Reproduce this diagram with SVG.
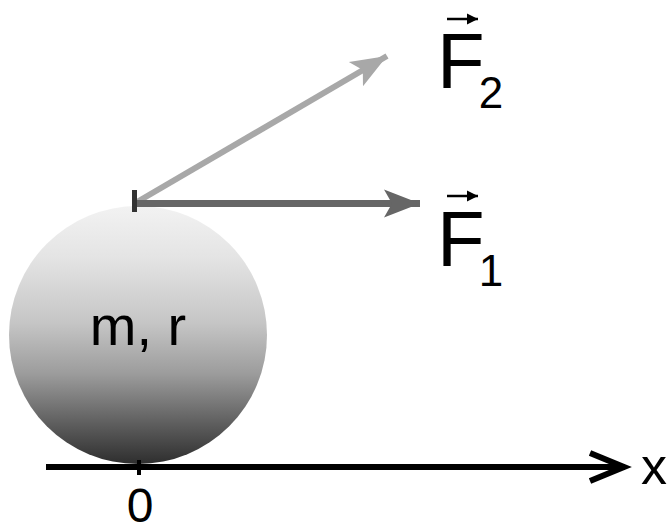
<svg xmlns="http://www.w3.org/2000/svg" width="667" height="527" viewBox="0 0 667 527">
  <defs>
    <linearGradient id="ballGrad" x1="0" y1="0" x2="0" y2="1">
      <stop offset="0" stop-color="#f2f2f2"/>
      <stop offset="0.2" stop-color="#e4e4e4"/>
      <stop offset="0.45" stop-color="#c6c6c6"/>
      <stop offset="0.65" stop-color="#9c9c9c"/>
      <stop offset="0.85" stop-color="#5c5c5c"/>
      <stop offset="1" stop-color="#2e2e2e"/>
    </linearGradient>
    <marker id="headF1" markerUnits="userSpaceOnUse" markerWidth="40" markerHeight="32" viewBox="-36 -16 40 32" refX="0" refY="0" orient="auto">
      <path d="M0,0 L-36,-14 L-28,0 L-36,14 Z" fill="#666666"/>
    </marker>
    <marker id="headF2" markerUnits="userSpaceOnUse" markerWidth="40" markerHeight="32" viewBox="-36 -16 40 32" refX="0" refY="0" orient="auto">
      <path d="M0,0 L-36,-14 L-28,0 L-36,14 Z" fill="#a8a8a8"/>
    </marker>
    <marker id="vecHead" markerUnits="userSpaceOnUse" markerWidth="14" markerHeight="14" viewBox="-12 -7 14 14" refX="0" refY="0" orient="auto">
      <path d="M0,0 L-11,-5.5 L-11,5.5 Z" fill="#000"/>
    </marker>
  </defs>
  <style>
    text { font-family: "Liberation Sans", Arial, sans-serif; fill: #000; }
    .big { font-size: 78px; }
    .sub { font-size: 44px; }
    .lbl { font-size: 52px; }
    .vec { stroke: #000; stroke-width: 2.5; fill: none; }
  </style>
  <rect width="667" height="527" fill="#ffffff"/>

  <g id="ball">
    <circle cx="138" cy="335" r="129" fill="url(#ballGrad)"/>
    <text x="138" y="345" text-anchor="middle" style="font-size:56px">m, r</text>
  </g>

  <g id="axis">
    <line x1="46" y1="467" x2="622" y2="467" stroke="#000" stroke-width="6"/>
    <polyline points="590,453 624,467 590,481" fill="none" stroke="#000" stroke-width="6"/>
    <line x1="139" y1="460" x2="139" y2="475" stroke="#000" stroke-width="4"/>
    <text x="641" y="484" class="lbl">x</text>
    <text x="140" y="522" text-anchor="middle" style="font-size:48px">0</text>
  </g>

  <g id="connectors">
    <line id="arrowF2" x1="137" y1="202" x2="387" y2="56" stroke="#a8a8a8" stroke-width="6" marker-end="url(#headF2)"/>
    <line id="arrowF1" x1="137" y1="203.5" x2="420" y2="203.5" stroke="#666666" stroke-width="7" marker-end="url(#headF1)"/>
    <rect x="132" y="190" width="5" height="22" fill="#333333"/>
  </g>

  <g id="labelF2">
    <line x1="447" y1="19" x2="478" y2="19" class="vec" marker-end="url(#vecHead)"/>
    <text x="437" y="88" class="big">F<tspan class="sub" dx="-6" dy="20">2</tspan></text>
  </g>

  <g id="labelF1">
    <line x1="447" y1="196" x2="478" y2="196" class="vec" marker-end="url(#vecHead)"/>
    <text x="437" y="266" class="big">F<tspan class="sub" dx="-6" dy="20">1</tspan></text>
  </g>
</svg>
